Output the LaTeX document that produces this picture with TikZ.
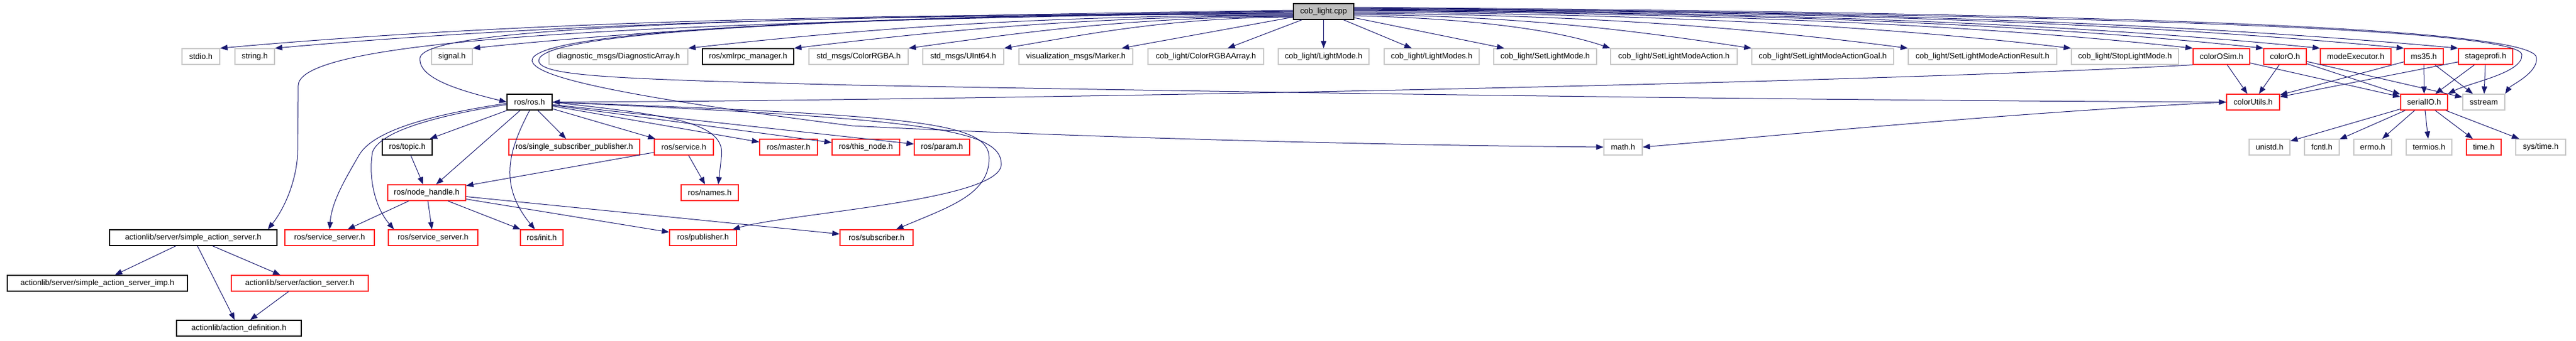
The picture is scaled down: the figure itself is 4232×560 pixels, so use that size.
\documentclass[tikz,border=0pt]{standalone}
\usepackage{fontspec}
\setmainfont{Liberation Sans}
\usetikzlibrary{arrows.meta,calc}
\definecolor{edgeblue}{HTML}{191970}
\definecolor{sysgray}{HTML}{C8C8C8}
\definecolor{rootfill}{HTML}{BFBFBF}
\definecolor{redbox}{HTML}{FF2020}
\tikzset{
  box/.style={draw, line width=1.4pt, minimum height=26pt, inner sep=0pt, font=\fontsize{13}{13}\selectfont},
  sysbox/.style={box, draw=sysgray},
  redb/.style={box, draw=redbox},
  docbox/.style={box, draw=black},
  rootbox/.style={box, draw=black, fill=rootfill},
  e/.style={draw=edgeblue, line width=1pt, -{Triangle[length=12pt,width=9pt]}}
}
\newcommand\mkbox[6]{\node[#1, minimum width={#4-#3}] (#2) at ({(#3+#4)/2},{#5+13}) {#6};}
\begin{document}
\begin{tikzpicture}[x=1pt,y=-1pt]
\useasboundingbox (0,0) rectangle (4232,560);
% row 0
\mkbox{rootbox}{root}{2125}{2224}{6}{cob\_light.cpp}
% row 1
\mkbox{sysbox}{stdio}{299}{361}{80}{stdio.h}
\mkbox{sysbox}{string}{386}{451}{80}{string.h}
\mkbox{sysbox}{signal}{709}{776}{80}{signal.h}
\mkbox{sysbox}{diag}{902}{1130}{80}{diagnostic\_msgs/DiagnosticArray.h}
\mkbox{docbox}{xmlrpc}{1154}{1304}{80}{ros/xmlrpc\_manager.h}
\mkbox{sysbox}{rgba}{1329}{1492}{80}{std\_msgs/ColorRGBA.h}
\mkbox{sysbox}{uint}{1516}{1649}{80}{std\_msgs/UInt64.h}
\mkbox{sysbox}{marker}{1674}{1861}{80}{visualization\_msgs/Marker.h}
\mkbox{sysbox}{rgbaarr}{1886}{2076}{80}{cob\_light/ColorRGBAArray.h}
\mkbox{sysbox}{lmode}{2100}{2249}{80}{cob\_light/LightMode.h}
\mkbox{sysbox}{lmodes}{2274}{2430}{80}{cob\_light/LightModes.h}
\mkbox{sysbox}{slm}{2454}{2623}{80}{cob\_light/SetLightMode.h}
\mkbox{sysbox}{slma}{2646}{2854}{80}{cob\_light/SetLightModeAction.h}
\mkbox{sysbox}{slmg}{2878}{3111}{80}{cob\_light/SetLightModeActionGoal.h}
\mkbox{sysbox}{slmr}{3135}{3379}{80}{cob\_light/SetLightModeActionResult.h}
\mkbox{sysbox}{stoplm}{3403}{3579}{80}{cob\_light/StopLightMode.h}
\mkbox{redb}{cosim}{3603}{3696}{80}{colorOSim.h}
\mkbox{redb}{coloro}{3719}{3789}{80}{colorO.h}
\mkbox{redb}{modeex}{3812}{3928}{80}{modeExecutor.h}
\mkbox{redb}{ms}{3950}{4014}{80}{ms35.h}
\mkbox{redb}{stage}{4039}{4128}{80}{stageprofi.h}
% row 2
\mkbox{docbox}{ros}{833}{907}{155}{ros/ros.h}
\mkbox{redb}{cutils}{3658}{3745}{155}{colorUtils.h}
\mkbox{redb}{serial}{3944}{4021}{155}{serialIO.h}
\mkbox{sysbox}{sstream}{4046}{4115}{155}{sstream}
% row 3
\mkbox{docbox}{topic}{628}{710}{229}{ros/topic.h}
\mkbox{redb}{ssp}{836}{1051}{229}{ros/single\_subscriber\_publisher.h}
\mkbox{redb}{service}{1075}{1172}{229}{ros/service.h}
\mkbox{redb}{master}{1248}{1343}{229}{ros/master.h}
\mkbox{redb}{thisnode}{1367}{1478}{229}{ros/this\_node.h}
\mkbox{redb}{param}{1502}{1593}{229}{ros/param.h}
\mkbox{sysbox}{math}{2635}{2698}{229}{math.h}
\mkbox{sysbox}{unistd}{3695}{3762}{229}{unistd.h}
\mkbox{sysbox}{fcntl}{3786}{3843}{229}{fcntl.h}
\mkbox{sysbox}{errno}{3867}{3929}{229}{errno.h}
\mkbox{sysbox}{termios}{3953}{4028}{229}{termios.h}
\mkbox{redb}{time}{4052}{4109}{229}{time.h}
\mkbox{sysbox}{systime}{4133}{4215}{229}{sys/time.h}
% row 4
\mkbox{redb}{nh}{637}{765}{304}{ros/node\_handle.h}
\mkbox{redb}{names}{1119}{1213}{304}{ros/names.h}
% row 5
\mkbox{docbox}{sas}{180}{455}{378}{actionlib/server/simple\_action\_server.h}
\mkbox{redb}{svca}{468}{615}{378}{ros/service\_server.h}
\mkbox{redb}{svcb}{638}{785}{378}{ros/service\_server.h}
\mkbox{redb}{init}{855}{925}{378}{ros/init.h}
\mkbox{redb}{pub}{1100}{1210}{378}{ros/publisher.h}
\mkbox{redb}{sub}{1380}{1500}{378}{ros/subscriber.h}
% row 6
\mkbox{docbox}{sasimp}{12}{308}{453}{actionlib/server/simple\_action\_server\_imp.h}
\mkbox{redb}{actsrv}{380}{605}{453}{actionlib/server/action\_server.h}
% row 7
\mkbox{docbox}{actdef}{290}{495}{527}{actionlib/action\_definition.h}

% edges root -> row 1 (left side)
\draw[e] ($(root.west)+(0,4)$) .. controls (1331,22) and (802,40) .. (stdio.north east);
\draw[e] ($(root.west)+(0,5)$) .. controls (1372,23) and (870,42) .. (string.north east);
\draw[e] ($(root.west)+(0,3)$) .. controls (1518,23) and (1113,45) .. (signal.north east);
\draw[e] ($(root.west)+(0,6)$) .. controls (1677,25) and (1379,52) .. (diag.north east);
\draw[e] ($(root.west)+(0,7)$) .. controls (1756,27) and (1509,55) .. (xmlrpc.north east);
\draw[e] ($(root.west)+(0,8)$) .. controls (1840,28) and (1650,58) .. (rgba.north east);
\draw[e] ($(root.west)+(0,9)$) .. controls (1911,29) and (1768,60) .. (uint.north east);
\draw[e] (root) -- (marker);
\draw[e] (root) -- (rgbaarr);
\draw[e] (root) -- (lmode);
\draw[e] (root) -- (lmodes);
\draw[e] (root) -- (slm);
% right side
\draw[e] ($(root.east)+(0,7)$) .. controls (2420,30) and (2560,50) .. (slma.north west);
\draw[e] ($(root.east)+(0,5)$) .. controls (2518,26) and (2714,55) .. (slmg.north west);
\draw[e] ($(root.east)+(0,3)$) .. controls (2634,24) and (2907,50) .. (slmr.north west);
\draw[e] ($(root.east)+(0,1)$) .. controls (2755,23) and (3108,45) .. (stoplm.north west);
\draw[e] ($(root.east)+(0,-1)$) .. controls (2845,22) and (3258,42) .. (cosim.north west);
\draw[e] ($(root.east)+(0,-2)$) .. controls (2897,21) and (3345,40) .. (coloro.north west);
\draw[e] ($(root.east)+(0,-3)$) .. controls (2939,20) and (3415,40) .. (modeex.north west);
\draw[e] ($(root.east)+(0,-4)$) .. controls (3001,19) and (3518,38) .. (ms.north west);
\draw[e] ($(root.east)+(0,-5)$) .. controls (3041,18) and (3585,38) .. (stage.north west);
% curved edges from root
\draw[e] ($(root.west)+(0,-2)$) .. controls (1200,30) and (700,45) .. (690,95) .. controls (686,130) and (760,150) .. (ros.west);
\draw[e] ($(root.west)+(0,1)$) .. controls (1200,35) and (495,55) .. (490,140) -- (489,247) .. controls (489,290) and (470,340) .. (sas.north -| 440,0);
\draw[e] ($(root.west)+(0,-1)$) .. controls (1300,30) and (885,55) .. (885,100) .. controls (888,125) and (1000,130) .. (1400,140) .. controls (2500,160) and (3200,166) .. (cutils.west);
\draw[e] (root.west) .. controls (1300,28) and (872,55) .. (874,100) .. controls (878,120) and (950,150) .. (1400,207) .. controls (1900,232) and (2400,240) .. (math.west);
\draw[e] ($(root.east)+(0,-6)$) .. controls (3000,20) and (4140,36) .. (4143,90) .. controls (4145,120) and (4060,135) .. (serial.north east);
\draw[e] ($(root.east)+(0,-7)$) .. controls (3000,18) and (4165,32) .. (4167,95) .. controls (4170,120) and (4125,140) .. (sstream.north east);
% row 1 -> row 2
\draw[e] (cosim.south west) .. controls (3000,140) and (1500,166) .. (ros.east);
\draw[e] (cosim) -- (cutils);
\draw[e] (cosim) -- (serial);
\draw[e] (coloro) -- (cutils);
\draw[e] (coloro) -- (serial);
\draw[e] (coloro) -- (sstream);
\draw[e] (ms) -- (cutils);
\draw[e] (ms) -- (serial);
\draw[e] (ms) -- (sstream);
\draw[e] (stage) -- (cutils);
\draw[e] (stage) -- (serial);
\draw[e] (stage) -- (sstream);
% row 2 -> row 3
\foreach \t in {unistd,fcntl,errno,termios,time,systime}
  \draw[e] (serial) -- (\t);
\draw[e] (cutils.west) .. controls (3300,185) and (2900,225) .. (math.east);
\draw[e] (ros) -- (topic);
\draw[e] (ros) -- (ssp);
\draw[e] (ros) -- (service);
\draw[e] (ros) -- (master);
\draw[e] (ros) -- (thisnode);
\draw[e] (ros) -- (param);
\draw[e] (ros.east) .. controls (1100,190) and (1195,200) .. (1185,260) -- (names.north -| 1180,0);
\draw[e] (ros) -- (nh);
\draw[e] (topic) -- (nh);
\draw[e] (service) -- (nh);
\draw[e] (service) -- (names);
% to row 5
\draw[e] ($(ros.west)+(0,2)$) .. controls (720,187) and (615,212) .. (590,255) .. controls (570,290) and (545,330) .. (svca.north);
\draw[e] ($(ros.west)+(0,4)$) .. controls (720,190) and (625,215) .. (612,250) .. controls (605,290) and (615,340) .. ($(svcb.north west)+(10,0)$);
\draw[e] (ros.south) .. controls (840,240) and (815,300) .. (init);
\draw[e] (ros.east) .. controls (1500,190) and (1625,200) .. (1625,260) .. controls (1625,320) and (1560,340) .. (sub);
\draw[e] (ros.east) .. controls (1500,195) and (1645,210) .. (1645,270) .. controls (1645,330) and (1300,350) .. (pub);
\draw[e] (nh) -- (svca);
\draw[e] (nh) -- (svcb);
\draw[e] (nh) -- (init);
\draw[e] (nh) -- (pub);
\draw[e] (nh) -- (sub);
% actionlib
\draw[e] (sas) -- (sasimp);
\draw[e] (sas) -- (actsrv);
\draw[e] (sas) -- (actdef);
\draw[e] (actsrv) -- (actdef);
\end{tikzpicture}
\end{document}
